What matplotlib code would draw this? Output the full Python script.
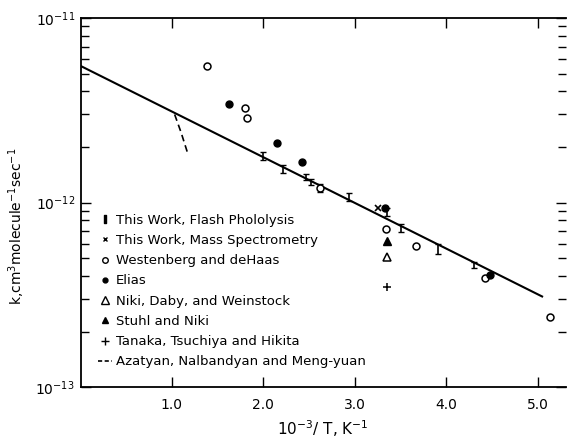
import matplotlib.pyplot as plt
from matplotlib.lines import Line2D
from matplotlib.ticker import LogLocator, NullFormatter

# fitted line (this work) and Azatyan curve
line_x = [0.0, 5.05]
line_k = [5.5e-12, 3.1e-13]
aza_x = [1.03, 1.10, 1.18]
aza_k = [3.0e-12, 2.4e-12, 1.8e-12]

# this work, flash photolysis
fp_x = [2.00, 2.22, 2.47, 2.52, 2.62, 2.94, 3.35, 3.51, 3.91, 4.31]
fp_k = [1.80e-12, 1.52e-12, 1.38e-12, 1.29e-12, 1.20e-12, 1.07e-12,
        8.9e-13, 7.3e-13, 5.6e-13, 4.6e-13]
fp_err = [0.05, 0.05, 0.04, 0.04, 0.05, 0.05, 0.05, 0.05, 0.06, 0.04]

# this work, mass spectrometry
ms_x = [3.25]
ms_k = [9.3e-13]

# Westenberg and deHaas
wd_x = [1.38, 1.80, 1.82, 2.62, 3.34, 3.67, 4.42, 5.14]
wd_k = [5.5e-12, 3.27e-12, 2.88e-12, 1.20e-12, 7.2e-13, 5.8e-13, 3.9e-13, 2.4e-13]

# Elias
el_x = [1.62, 2.15, 2.42, 3.33, 4.48]
el_k = [3.4e-12, 2.1e-12, 1.66e-12, 9.3e-13, 4.05e-13]

# Niki, Daby, Weinstock / Stuhl and Niki / Tanaka et al.
nd_x, nd_k = [3.35], [5.05e-13]
sn_x, sn_k = [3.35], [6.2e-13]
tt_x, tt_k = [3.35], [3.5e-13]

fig = plt.figure(figsize=(5.67, 4.38), dpi=100)
ax = fig.add_axes([0.142, 0.116, 0.856, 0.843])

ax.plot(line_x, line_k, color='black', lw=1.5)
ax.plot(aza_x, aza_k, color='black', lw=1.2, ls=(0, (4, 2.5)))

fp_lo = [k * e for k, e in zip(fp_k, fp_err)]
ax.errorbar(fp_x, fp_k, yerr=fp_lo, fmt='none', ecolor='black',
            elinewidth=1.2, capsize=2.5, capthick=1.0)
ax.plot(ms_x, ms_k, 'x', color='black', ms=4, mew=1.2)
ax.plot(wd_x, wd_k, 'o', mfc='white', mec='black', ms=5, mew=1.1)
ax.plot(el_x, el_k, 'o', color='black', ms=5)
ax.plot(nd_x, nd_k, '^', mfc='white', mec='black', ms=6, mew=1.1)
ax.plot(sn_x, sn_k, '^', color='black', ms=5.5)
ax.plot(tt_x, tt_k, '+', color='black', ms=6, mew=1.1)

ax.set_yscale('log')
ax.set_xlim(0, 5.31)
ax.set_ylim(1e-13, 1e-11)
ax.set_xticks([1, 2, 3, 4, 5])
ax.set_xticklabels(['1.0', '2.0', '3.0', '4.0', '5.0'])
ax.set_yticks([1e-13, 1e-12, 1e-11])
ax.yaxis.set_minor_locator(LogLocator(base=10, subs=range(2, 10), numticks=20))
ax.yaxis.set_minor_formatter(NullFormatter())
ax.tick_params(which='both', direction='in', top=True, right=True,
               labelsize=10, width=1)
ax.tick_params(which='major', length=7)
ax.tick_params(which='minor', length=6)
ax.tick_params(axis='x', pad=8)
ax.tick_params(axis='y', pad=4)
for s in ['left', 'bottom', 'top']:
    ax.spines[s].set_linewidth(1.3)
ax.spines['right'].set_visible(False)

ax.set_xlabel(r'$10^{-3}$/ T, K$^{-1}$', fontsize=11)
ax.set_ylabel(r'k,cm$^3$molecule$^{-1}$sec$^{-1}$', fontsize=10)
ax.yaxis.set_label_coords(-0.11, 0.435)

handles = [
    Line2D([], [], ls='none', marker='$\\mathrm{I}$', color='black', ms=6),
    Line2D([], [], ls='none', marker='x', color='black', ms=3.5, mew=1),
    Line2D([], [], ls='none', marker='o', mfc='white', mec='black', ms=4),
    Line2D([], [], ls='none', marker='o', color='black', ms=3.5),
    Line2D([], [], ls='none', marker='^', mfc='white', mec='black', ms=6),
    Line2D([], [], ls='none', marker='^', color='black', ms=4.5),
    Line2D([], [], ls='none', marker='+', color='black', ms=6, mew=1),
    Line2D([], [], ls=(0, (2.5, 1.5)), color='black', lw=1.2),
]
labels = ['This Work, Flash Phololysis', 'This Work, Mass Spectrometry',
          'Westenberg and deHaas', 'Elias', 'Niki, Daby, and Weinstock',
          'Stuhl and Niki', 'Tanaka, Tsuchiya and Hikita',
          'Azatyan, Nalbandyan and Meng-yuan']
ax.legend(handles, labels, loc='upper left', bbox_to_anchor=(0.018, 0.495),
          frameon=False, fontsize=9.5, handlelength=1.0, handletextpad=0.3,
          labelspacing=0.55, borderaxespad=0.3)

fig.savefig('out.png', dpi=100)
